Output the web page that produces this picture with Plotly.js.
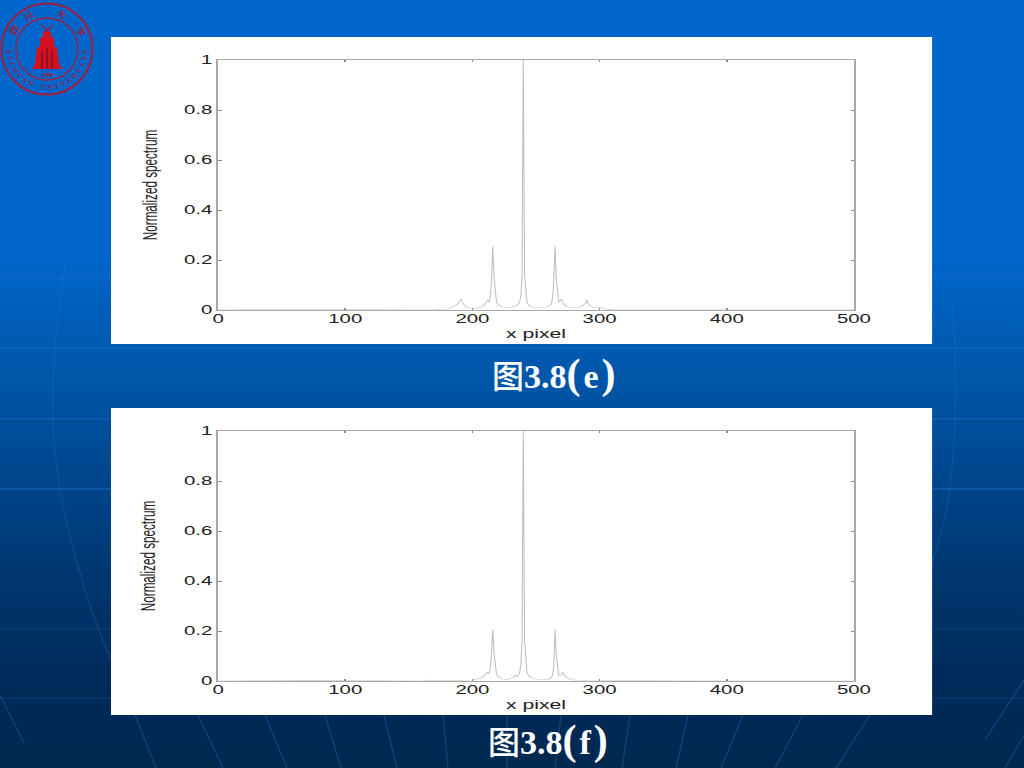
<!DOCTYPE html>
<html>
<head>
<meta charset="utf-8">
<script src="https://cdn.plot.ly/plotly-3.0.1.min.js"></script>
<style>
html,body{margin:0;padding:0;width:1024px;height:768px;overflow:hidden}
body{position:relative;background:linear-gradient(180deg,#0066cc 0,#0066cc 250px,#0056a8 380px,#00458c 480px,#00366f 580px,#002b5a 680px,#00294f 768px)}
#bg,#logo{position:absolute;left:0;top:0}
.fig{position:absolute;left:111px;width:483px;height:307px;transform:scaleX(1.7);transform-origin:0 0}
.cap{position:absolute;color:#fff;font:bold 34px "Liberation Serif",serif;white-space:nowrap;line-height:38px}
.cap .cjk{font-family:"Noto Sans CJK SC";font-weight:500;font-size:32px}
.cap .par{font-size:42px;font-weight:bold}
.cap .let{padding:0 3px}
</style>
</head>
<body>
<svg id="bg" width="1024" height="768" fill="none">
  <g stroke="#1a6fd0" stroke-opacity="0.55" stroke-width="1.5">
    <path d="M0 278H1024M0 348H1024M0 419H1024M0 489H1024"/>
  </g>
  <g stroke="#1a5fa8" stroke-opacity="0.4" stroke-width="1">
    <path d="M0 629H1024M0 698H1024"/>
  </g>
  <g stroke="#2a7bd0" stroke-opacity="0.28" stroke-width="1.2">
    <path d="M66 260C56 320 50 390 54 440C58 500 80 590 115 670"/>
    <path d="M952 300C958 370 956 450 948 500C944 530 936 550 930 570"/>
  </g>
  <g stroke="#0f4f92" stroke-opacity="0.8" stroke-width="1.2">
    <path d="M135 715L156 768M198 715L223 768M265 715L287 768M325 715L341 768M384 715L397 768M443 715L448 768M507 715V768M561 715L555 768M630 715L622 768M688 715L676 768M743 715L721 768M803 715L775 768M870 715L836 768M0 695L25 745M1024 680L985 740M1024 735L1005 768"/>
  </g>
</svg>

<svg id="logo" width="96" height="98" viewBox="0 0 96 98">
  <circle cx="47" cy="49" r="45.5" fill="none" stroke="#9c2040" stroke-width="2"/>
  <circle cx="47" cy="49" r="31" fill="none" stroke="#9c2040" stroke-width="1.5"/>
  <path fill="#d4111e" d="M43 32H51V37L54 38V46L57 48L59 64L62 69H32L35 64L37 48L40 46V38L43 37Z"/>
  <path fill="none" stroke="#9c2040" stroke-width="1.6" d="M41 25L47 30L53 25M44 31H50"/>
  <path stroke="#7a1030" stroke-width="1.4" fill="none" d="M42 69V51M47 69V48M52 69V51"/>
  <text x="47" y="76.5" text-anchor="middle" font-family="Liberation Sans" font-weight="bold" font-size="5.5" fill="#9c2040">1896</text>
</svg>

<div id="figE" class="fig" style="top:37px"></div>
<div id="figF" class="fig" style="top:408px"></div>

<div class="cap" style="left:492px;top:355px"><span class="cjk">图</span>3.8<span class="par">(</span><span class="let">e</span><span class="par">)</span></div>
<div class="cap" style="left:488px;top:721px"><span class="cjk">图</span>3.8<span class="par">(</span><span class="let">f</span><span class="par">)</span></div>

<script>
var tickVals = [0, 0.2, 0.4, 0.6, 0.8, 1];
var tickText = ['0', '0.2', '0.4', '0.6', '0.8', '1'];
var xTicks = [0, 100, 200, 300, 400, 500];
var xLabel = 'x pixel';
var yLabel = 'Normalized spectrum';

var pixelE = [0,100,170,180,184,187,189,191,193,195,198,202,205,208,210,211,212,213,214,215,216,217,218,219,221,224,228,232,235,237,238,239,240,241,242,243,245,248,252,256,259,262,263,264,265,266,267,268,269,270,271,272,274,277,280,284,287,289,290,291,293,296,299,303,310,400,500];
var spectrumE = [0,0,0.002,0.004,0.012,0.018,0.028,0.044,0.024,0.012,0.008,0.006,0.01,0.014,0.024,0.036,0.042,0.03,0.05,0.12,0.255,0.13,0.05,0.03,0.018,0.012,0.008,0.012,0.018,0.03,0.05,0.14,1,0.14,0.05,0.028,0.015,0.01,0.008,0.01,0.014,0.024,0.045,0.12,0.255,0.12,0.048,0.03,0.036,0.044,0.032,0.022,0.014,0.01,0.008,0.01,0.018,0.028,0.04,0.026,0.014,0.01,0.012,0.005,0.001,0,0];

var pixelF = [0,100,163,166,170,180,190,200,204,207,209,211,212,213,214,215,216,217,218,219,221,224,228,232,234,235,237,238,239,240,241,242,243,245,248,252,256,260,262,263,264,265,266,267,268,270,271,272,274,277,282,290,300,303,310,316,320,400,500];
var spectrumF = [0,0,0.003,0.004,0.002,0.002,0.002,0.004,0.008,0.012,0.02,0.03,0.036,0.028,0.05,0.11,0.205,0.11,0.05,0.026,0.014,0.008,0.006,0.012,0.026,0.016,0.03,0.06,0.16,1,0.16,0.05,0.03,0.018,0.01,0.006,0.005,0.006,0.012,0.024,0.06,0.205,0.1,0.04,0.022,0.024,0.036,0.026,0.014,0.006,0.003,0.002,0.002,0.004,0.002,0.003,0.001,0,0];

var sealTop = ['四', '川', '大', '学'];
var sealTopAngles = [150, 119, 67, 27];
var sealBottom = 'SICHUAN UNIVERSITY'.split('');

function sealLetter(ch, x, y, rot, family, size) {
  var t = document.createElementNS('http://www.w3.org/2000/svg', 'text');
  t.textContent = ch;
  t.setAttribute('x', x);
  t.setAttribute('y', y);
  t.setAttribute('text-anchor', 'middle');
  t.setAttribute('dominant-baseline', 'central');
  t.setAttribute('transform', 'rotate(' + rot + ' ' + x + ' ' + y + ')');
  t.setAttribute('font-family', family);
  t.setAttribute('font-weight', 'bold');
  t.setAttribute('font-size', size);
  t.setAttribute('fill', '#9c2040');
  document.getElementById('logo').appendChild(t);
}
sealTop.forEach(function (ch, i) {
  var a = sealTopAngles[i] * Math.PI / 180;
  sealLetter(ch, 47 + 38 * Math.cos(a), 49 - 38 * Math.sin(a), 90 - sealTopAngles[i], 'Noto Sans CJK SC', 9);
});
sealBottom.forEach(function (ch, i) {
  var phi = 176 - i * 172 / (sealBottom.length - 1);
  var r = phi * Math.PI / 180;
  sealLetter(ch, 47 + 38.5 * Math.cos(r), 49 + 38.5 * Math.sin(r), phi - 90, 'Liberation Serif', 7);
});

function draw(id, xs, ys, yStandoff) {
  var axisBase = {
    showline: true, mirror: 'ticks', linecolor: '#a8a8a8', linewidth: 1,
    showgrid: false, zeroline: false, ticks: 'inside', ticklen: 2, tickwidth: 1,
    tickcolor: '#8a8a8a', tickfont: {family: 'Liberation Sans', size: 12, color: '#222'}
  };
  Plotly.newPlot(id, [{
    type: 'scatter', mode: 'lines', x: xs, y: ys,
    line: {color: '#bdbdbd', width: 0.6}, hoverinfo: 'skip'
  }], {
    width: 483, height: 307,
    margin: {l: 62.6, r: 46.4, t: 23, b: 34, pad: 0},
    paper_bgcolor: '#ffffff', plot_bgcolor: '#ffffff', showlegend: false,
    xaxis: Object.assign({}, axisBase, {
      range: [0, 500], tickvals: xTicks, ticktext: xTicks.map(String), ticklabelstandoff: -2,
      title: {text: xLabel, font: {family: 'Liberation Sans', size: 12.5, color: '#222'}, standoff: 3}
    }),
    yaxis: Object.assign({}, axisBase, {
      range: [0, 1], tickvals: tickVals, ticktext: tickText,
      title: {text: yLabel, font: {family: 'Liberation Sans', size: 11.7, color: '#222'}, standoff: yStandoff}
    })
  }, {displayModeBar: false, staticPlot: true});
}
draw('figE', pixelE, spectrumE, 12);
draw('figF', pixelF, spectrumF, 13.5);
</script>
</body>
</html>
